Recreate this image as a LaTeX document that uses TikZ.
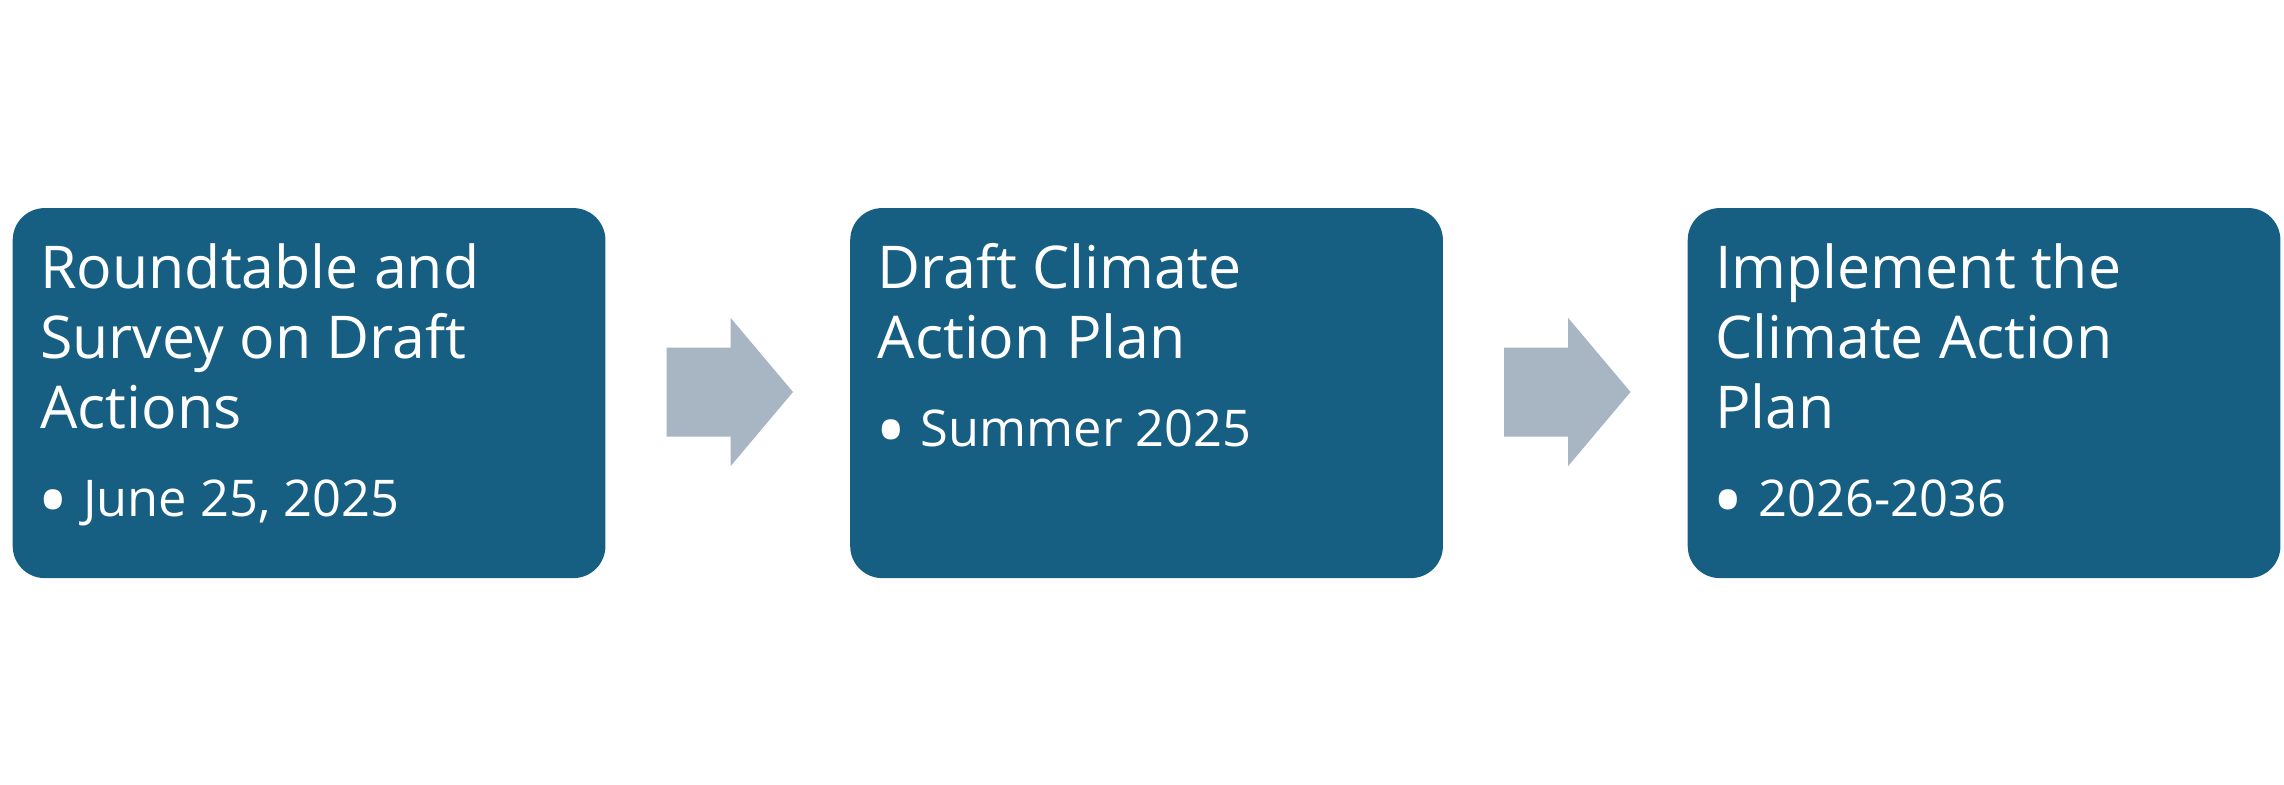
\documentclass[tikz,border=0pt]{standalone}
\usepackage{fontspec}
\setmainfont{Open Sans}
\definecolor{stageblue}{RGB}{23,95,130}
\definecolor{arrowgray}{RGB}{168,181,194}
\newcommand\dotmark{\makebox[22.8pt][l]{\raisebox{-7pt}{\fontsize{42}{42}\selectfont•}}}

\begin{document}
\begin{tikzpicture}[x=0.5pt,y=-0.5pt,
  stage/.style={fill=stageblue,rounded corners=16pt,anchor=north west,
    minimum width=296.35pt,minimum height=185pt,inner sep=0pt},
  title/.style={text=white,align=left,anchor=base west,inner sep=0pt,
    font=\fontsize{29.5}{35}\selectfont},
  item/.style={text=white,anchor=base west,inner sep=0pt,
    font=\fontsize{25.3}{28}\selectfont}]
\useasboundingbox (0,0) rectangle (2284,785);
\pgfmathsetmacro\d{837.5}
\node[stage] (s1) at (12.3,207.7) {};
\node[stage] (s2) at (12.3+\d,207.7) {};
\node[stage] (s3) at (12.3+2*\d,207.7) {};
% titles sit on the baseline of their last line
\node[title] (t1) at ([xshift=13.8pt,yshift=-110.3pt]s1.north west) {Roundtable and\\Survey on Draft\\Actions};
\node[title] (t2) at ([xshift=13.8pt,yshift=-75.3pt]s2.north west) {Draft Climate\\Action Plan};
\node[title] (t3) at ([xshift=13.8pt,yshift=-110.3pt]s3.north west) {Implement the\\Climate Action\\Plan};
\node[item] (b1) at ([xshift=12.5pt,yshift=-154.5pt]s1.north west) {\dotmark June 25, 2025};
\node[item] (b2) at ([xshift=12.5pt,yshift=-119.2pt]s2.north west) {\dotmark Summer 2025};
\node[item] (b3) at ([xshift=12.5pt,yshift=-154.5pt]s3.north west) {\dotmark 2026-2036};
% block arrows between the stages
\foreach \dx in {0,\d}
  \fill[arrowgray] (666.7+\dx,347.7) -- (730.7+\dx,347.7) -- (730.7+\dx,318)
    -- (793+\dx,392) -- (730.7+\dx,466) -- (730.7+\dx,436.7) -- (666.7+\dx,436.7) -- cycle;
\end{tikzpicture}
\end{document}
